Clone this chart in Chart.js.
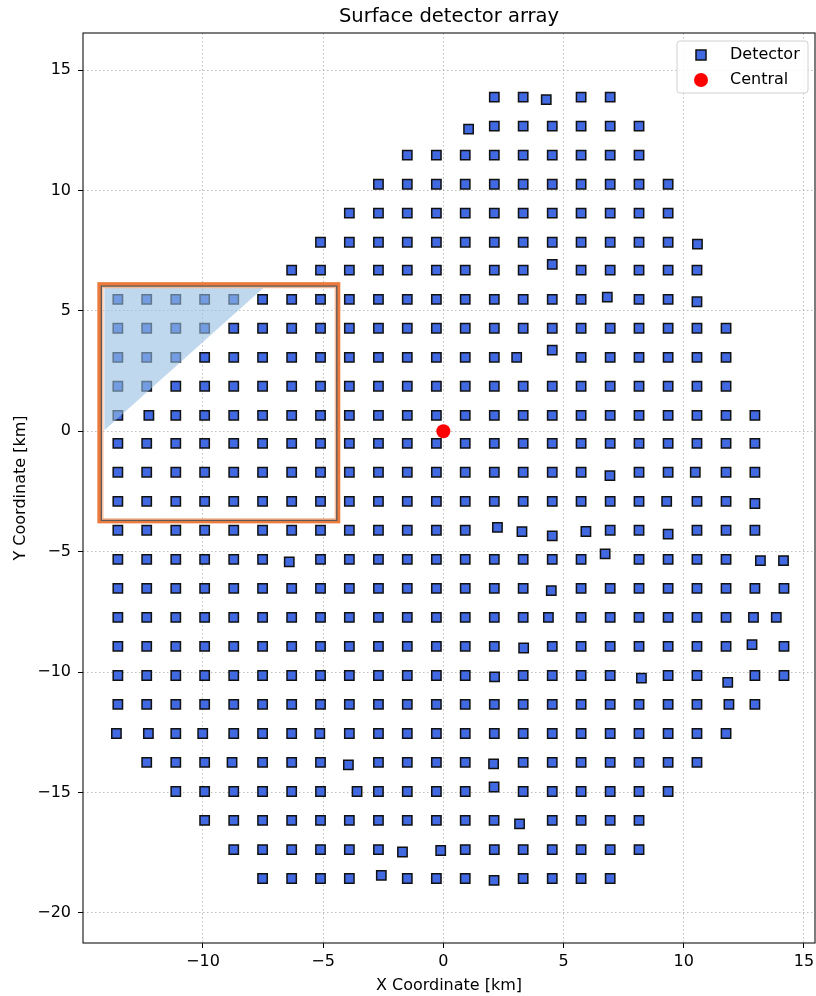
<!DOCTYPE html>
<html lang="en">

<head>
   <meta charset="UTF-8">
   <title>Surface detector array</title>
   <style>
      body { margin: 0; background: #fff; }
      canvas { display: block; }
   </style>
</head>

<body>
   <canvas id="myChart" width="816" height="996"></canvas>

   <script src="https://cdn.jsdelivr.net/npm/chart.js"></script>

   <script>
      // detector rows: nominal y of each row and the x positions on that row [km]
      const rowY = [13.88, 12.67, 11.47, 10.26, 9.06, 7.85, 6.69, 5.48, 4.28, 3.07, 1.87, 0.66, -0.50, -1.70,
         -2.91, -4.11, -5.32, -6.52, -7.73, -8.93, -10.14, -11.34, -12.55, -13.75, -14.96, -16.16, -17.37, -18.57];

      const rowX = [
         [2.12, 3.32, 5.73, 6.94],
         [2.12, 3.32, 4.53, 5.73, 6.94, 8.14],
         [-1.50, -0.29, 0.91, 2.12, 3.32, 4.53, 5.73, 6.94, 8.14],
         [-2.70, -1.50, -0.29, 0.91, 2.12, 3.32, 4.53, 5.73, 6.94, 8.14, 9.35],
         [-3.91, -2.70, -1.50, -0.29, 0.91, 2.12, 3.32, 4.53, 5.73, 6.94, 8.14, 9.35],
         [-5.11, -3.91, -2.70, -1.50, -0.29, 0.91, 2.12, 3.32, 4.53, 5.73, 6.94, 8.14, 9.35],
         [-6.31, -5.11, -3.91, -2.70, -1.50, -0.29, 0.91, 2.12, 3.32, 5.73, 6.94, 8.14, 9.35, 10.55],
         [-13.54, -12.34, -11.13, -9.93, -8.72, -7.52, -6.31, -5.11, -3.91, -2.70, -1.50, -0.29, 0.91, 2.12, 3.32, 4.53, 5.73, 8.14, 9.35],
         [-13.54, -12.34, -11.13, -9.93, -8.72, -7.52, -6.31, -5.11, -3.91, -2.70, -1.50, -0.29, 0.91, 2.12, 3.32, 4.53, 5.73, 6.94, 8.14, 9.35, 10.55, 11.76],
         [-13.54, -12.34, -11.13, -9.93, -8.72, -7.52, -6.31, -5.11, -3.91, -2.70, -1.50, -0.29, 0.91, 2.12, 3.05, 5.73, 6.94, 8.14, 9.35, 10.55, 11.76],
         [-13.54, -12.34, -11.13, -9.93, -8.72, -7.52, -6.31, -5.11, -3.91, -2.70, -1.50, -0.29, 0.91, 2.12, 3.32, 4.53, 5.73, 6.94, 8.14, 9.35, 10.55, 11.76],
         [-13.54, -12.25, -11.13, -9.93, -8.72, -7.52, -6.31, -5.11, -3.91, -2.70, -1.50, -0.29, 0.91, 2.12, 3.32, 4.53, 5.73, 6.94, 8.14, 9.35, 10.55, 11.76, 12.96],
         [-13.54, -12.34, -11.13, -9.93, -8.72, -7.52, -6.31, -5.11, -3.91, -2.70, -1.50, -0.29, 0.91, 2.12, 3.32, 4.53, 5.73, 6.94, 8.14, 9.35, 10.55, 11.76, 12.96],
         [-13.54, -12.34, -11.13, -9.93, -8.72, -7.52, -6.31, -5.11, -3.91, -2.70, -1.50, -0.29, 0.91, 2.12, 3.32, 4.53, 5.73, 8.14, 9.35, 10.48, 11.76, 12.96],
         [-13.54, -12.34, -11.13, -9.93, -8.72, -7.52, -6.31, -5.11, -3.91, -2.70, -1.50, -0.29, 0.91, 2.12, 3.32, 4.53, 5.73, 6.94, 8.14, 9.29, 10.55, 11.76],
         [-13.54, -12.34, -11.13, -9.93, -8.72, -7.52, -6.31, -5.11, -3.91, -2.70, -1.50, -0.29, 0.91, 6.94, 8.14, 10.55, 11.76, 12.96],
         [-13.54, -12.34, -11.13, -9.93, -8.72, -7.52, -5.11, -3.91, -2.70, -1.50, -0.29, 0.91, 2.12, 3.32, 4.53, 5.73, 8.14, 9.35, 10.55, 11.76],
         [-13.54, -12.34, -11.13, -9.93, -8.72, -7.52, -6.31, -5.11, -3.91, -2.70, -1.50, -0.29, 0.91, 2.12, 3.32, 5.73, 6.94, 8.14, 9.35, 10.55, 11.76, 12.96, 14.17],
         [-13.54, -12.34, -11.13, -9.93, -8.72, -7.52, -6.31, -5.11, -3.91, -2.70, -1.50, -0.29, 0.91, 2.12, 3.32, 4.37, 5.73, 6.94, 8.14, 9.35, 10.55, 11.76, 12.90, 13.85],
         [-13.54, -12.34, -11.13, -9.93, -8.72, -7.52, -6.31, -5.11, -3.91, -2.70, -1.50, -0.29, 0.91, 2.12, 4.53, 5.73, 6.94, 8.14, 9.35, 10.55, 11.76, 14.17],
         [-13.54, -12.34, -11.13, -9.93, -8.72, -7.52, -6.31, -5.11, -3.91, -2.70, -1.50, -0.29, 0.91, 3.32, 4.53, 5.73, 6.94, 9.35, 10.55, 12.96, 14.17],
         [-13.54, -12.34, -11.13, -9.93, -8.72, -7.52, -6.31, -5.11, -3.91, -2.70, -1.50, -0.29, 0.91, 2.12, 3.32, 4.53, 5.73, 6.94, 8.14, 9.35, 10.55, 11.88, 12.96],
         [-13.60, -12.27, -11.13, -10.01, -8.72, -7.52, -6.31, -5.14, -3.91, -2.70, -1.50, -0.29, 0.91, 2.12, 3.32, 4.53, 5.73, 6.94, 8.14, 9.35, 10.55, 11.76],
         [-12.34, -11.13, -9.93, -8.79, -7.52, -6.31, -5.11, -2.70, -1.50, -0.29, 0.91, 3.32, 4.53, 5.73, 6.94, 8.14, 9.35, 10.55],
         [-11.13, -9.93, -8.72, -7.52, -6.31, -5.11, -3.59, -2.70, -1.50, -0.29, 0.91, 3.32, 4.53, 5.73, 6.94, 8.14, 9.35],
         [-9.93, -8.72, -7.52, -6.31, -5.11, -3.91, -2.70, -1.50, -0.29, 0.91, 2.11, 4.53, 5.73, 6.94, 8.14],
         [-8.72, -7.52, -6.31, -5.11, -3.91, -2.70, 0.91, 2.12, 3.32, 4.53, 5.73, 6.94, 8.14],
         [-7.52, -6.31, -5.11, -3.91, -1.50, -0.29, 0.91, 3.32, 4.53, 5.73, 6.94]
      ];

      // detectors sitting clearly off their row
      const offX = [4.28, 1.05, 10.57, 4.53, 6.82, 10.55, 4.53, 6.93, 12.96, 2.25, 3.27, 4.53, 5.93, 9.35, -6.41, 6.73,
         13.19, 14.15, 4.49, 3.34, 12.84, 2.13, 8.24, 11.83, -3.95, 2.09, 2.11, 3.17, -1.70, -0.11, -2.58, 2.11];
      const offY = [13.77, 12.55, 7.77, 6.93, 5.57, 5.38, 3.37, -1.84, -3.00, -3.99, -4.17, -4.34, -4.16, -4.27, -5.42, -5.09,
         -5.37, -5.37, -6.62, -9.00, -8.86, -10.20, -10.25, -10.43, -13.85, -13.81, -14.77, -16.30, -17.47, -17.41, -18.44, -18.65];

      const centralX = [0];
      const centralY = [0];

      const xTicks = [-10, -5, 0, 5, 10, 15];
      const yTicks = [-20, -15, -10, -5, 0, 5, 10, 15];

      // highlighted region (data coords)
      const boxX = [-14.31, -4.37];
      const boxY = [-3.74, 6.11];
      const triX = [-14.10, -7.49, -14.10];
      const triY = [5.95, 5.95, 0.04];

      const detectors = [];
      rowY.forEach((y, i) => rowX[i].forEach(x => detectors.push({ x: x, y: y })));
      offX.forEach((x, i) => detectors.push({ x: x, y: offY[i] }));
      const central = centralX.map((x, i) => ({ x: x, y: centralY[i] }));

      const FONT = "'DejaVu Sans'";
      const minus = v => String(v).replace('-', '\u2212');

      const extras = {
         id: 'extras',
         afterDatasetsDraw(chart) {
            const ctx = chart.ctx;
            const xs = chart.scales.x, ys = chart.scales.y;
            const px = v => xs.getPixelForValue(v), py = v => ys.getPixelForValue(v);
            ctx.save();
            // shaded triangle
            ctx.beginPath();
            ctx.moveTo(px(triX[0]), py(triY[0]));
            for (let i = 1; i < triX.length; i++) ctx.lineTo(px(triX[i]), py(triY[i]));
            ctx.closePath();
            ctx.fillStyle = 'rgba(150, 190, 227, 0.6)';
            ctx.fill();
            // box outline
            const l = px(boxX[0]), r = px(boxX[1]), t = py(boxY[1]), b = py(boxY[0]);
            ctx.strokeStyle = '#ec7a3c';
            ctx.lineWidth = 4;
            ctx.strokeRect(l, t, r - l, b - t);
            ctx.strokeStyle = '#5a5a5a';
            ctx.lineWidth = 1.3;
            ctx.strokeRect(l + 2, t + 2, r - l - 3.5, b - t - 3);
            ctx.strokeStyle = '#f5b48c';
            ctx.lineWidth = 1.2;
            ctx.strokeRect(l + 3.5, t + 3.5, r - l - 6.5, b - t - 6);
            ctx.restore();
         },
         afterDraw(chart) {
            const ctx = chart.ctx;
            const a = chart.chartArea;
            ctx.save();
            // frame
            ctx.strokeStyle = '#262626';
            ctx.lineWidth = 1.2;
            ctx.strokeRect(a.left, a.top, a.right - a.left, a.bottom - a.top);
            // title
            ctx.fillStyle = '#000';
            ctx.font = '19.5px ' + FONT;
            ctx.textAlign = 'center';
            ctx.textBaseline = 'middle';
            ctx.fillText('Surface detector array', (a.left + a.right) / 2, 17);
            // legend
            const lx = 677, ly = 41, lw = 131, lh = 52;
            ctx.beginPath();
            ctx.roundRect(lx, ly, lw, lh, 3);
            ctx.fillStyle = 'rgba(255,255,255,0.85)';
            ctx.fill();
            ctx.strokeStyle = '#d0d0d0';
            ctx.lineWidth = 1;
            ctx.stroke();
            ctx.fillStyle = '#4169e1';
            ctx.strokeStyle = '#111';
            ctx.lineWidth = 1.5;
            ctx.fillRect(696, 50, 10, 10);
            ctx.strokeRect(696, 50, 10, 10);
            ctx.beginPath();
            ctx.arc(701, 80, 7, 0, Math.PI * 2);
            ctx.fillStyle = 'red';
            ctx.fill();
            ctx.fillStyle = '#000';
            ctx.font = '16px ' + FONT;
            ctx.textAlign = 'left';
            ctx.fillText('Detector', 730, 55);
            ctx.fillText('Central', 730, 80);
            ctx.restore();
         }
      };

      const gridOpts = {
         color: 'rgba(176, 176, 176, 0.9)',
         lineWidth: 0.9,
         tickColor: '#000',
         tickLength: 5,
         tickWidth: 1,
         tickBorderDash: []
      };
      const borderOpts = { display: false, dash: [1.5, 2.5] };

      new Chart(document.getElementById('myChart'), {
         type: 'scatter',
         data: {
            datasets: [{
               label: 'Central',
               data: central,
               order: 0,
               pointStyle: 'circle',
               pointRadius: 7,
               backgroundColor: 'red',
               borderColor: 'red',
               borderWidth: 0
            }, {
               label: 'Detector',
               data: detectors,
               order: 1,
               pointStyle: 'rect',
               pointRadius: 6.6,
               backgroundColor: '#4169e1',
               borderColor: '#111',
               borderWidth: 1.5
            }]
         },
         options: {
            responsive: false,
            animation: false,
            devicePixelRatio: 1,
            layout: { autoPadding: false, padding: { top: 33, right: 1, left: 0, bottom: 0 } },
            plugins: {
               legend: { display: false },
               tooltip: { enabled: false },
               title: { display: false }
            },
            scales: {
               x: {
                  type: 'linear',
                  min: -14.99,
                  max: 15.46,
                  afterBuildTicks: s => { s.ticks = xTicks.map(v => ({ value: v })); },
                  afterFit: s => { s.height = 53; s.paddingLeft = 0; s.paddingRight = 0; },
                  border: borderOpts,
                  grid: gridOpts,
                  ticks: { color: '#000', font: { size: 16, family: FONT }, padding: 4, maxRotation: 0, callback: minus },
                  title: { display: true, text: 'X Coordinate [km]', color: '#000', font: { size: 16, family: FONT }, padding: { top: 0, bottom: 1 } }
               },
               y: {
                  type: 'linear',
                  min: -21.25,
                  max: 16.54,
                  afterBuildTicks: s => { s.ticks = yTicks.map(v => ({ value: v })); },
                  afterFit: s => { s.width = 83; s.paddingTop = 0; s.paddingBottom = 0; },
                  border: borderOpts,
                  grid: gridOpts,
                  ticks: { color: '#000', font: { size: 16, family: FONT }, padding: 7, callback: minus },
                  title: { display: true, text: 'Y Coordinate [km]', color: '#000', font: { size: 16, family: FONT }, padding: { top: 11, bottom: 0 } }
               }
            }
         },
         plugins: [extras]
      });
   </script>
</body>

</html>
